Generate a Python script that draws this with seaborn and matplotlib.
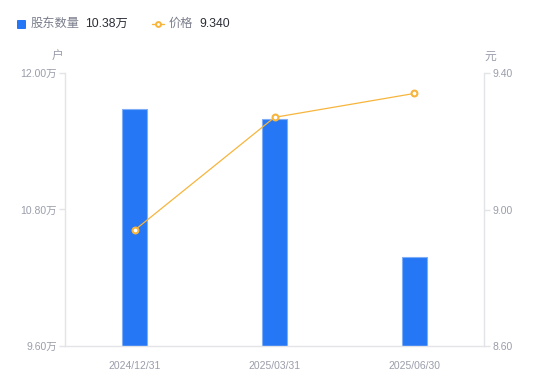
import matplotlib
matplotlib.use("Agg")
import matplotlib.pyplot as plt
import seaborn as sns
import pandas as pd
from matplotlib.ticker import FuncFormatter, FixedLocator

dates = ["2024/12/31", "2025/03/31", "2025/06/30"]
holders = [11.68, 11.60, 10.38]   # 万户
prices = [8.94, 9.27, 9.34]       # 元

left_ticks = [9.60, 10.80, 12.00]
right_ticks = [8.60, 9.00, 9.40]

df = pd.DataFrame({"date": dates, "holders": holders, "price": prices})

sns.set_theme(style="white")
plt.rcParams["font.family"] = ["Liberation Sans", "Noto Sans CJK SC", "DejaVu Sans"]

BLUE = "#2577F5"
ORANGE = "#F7B53C"
GREY = "#9A9DAA"
AXC = "#E3E4E8"

fig = plt.figure(figsize=(5.5, 3.81), dpi=100)
ax = fig.add_axes([65 / 550, 1 - 346 / 381, (484 - 65) / 550, (346 - 73) / 381])

sns.barplot(data=df, x="date", y="holders", ax=ax, color=BLUE, width=0.18,
            saturation=1, edgecolor="#7FAEF7", linewidth=0.8)
ax.set_ylim(left_ticks[0], left_ticks[-1])
ax.set_xlim(-0.5, 2.5)
ax.yaxis.set_major_locator(FixedLocator(left_ticks))
ax.yaxis.set_major_formatter(FuncFormatter(lambda v, p: f"{v:.2f}万"))
ax.set_xlabel("")
ax.set_ylabel("")

ax2 = ax.twinx()
sns.lineplot(data=df, x="date", y="price", ax=ax2, color=ORANGE, lw=0.9,
             marker="o", markersize=4.2, markerfacecolor="white",
             markeredgecolor=ORANGE, markeredgewidth=1.5, sort=False)
ax2.set_ylim(right_ticks[0], right_ticks[-1])
ax2.yaxis.set_major_locator(FixedLocator(right_ticks))
ax2.yaxis.set_major_formatter(FuncFormatter(lambda v, p: f"{v:.2f}"))
ax2.set_xlabel("")
ax2.set_ylabel("")
ax2.set_xlim(-0.5, 2.5)

for a in (ax, ax2):
    for s in a.spines.values():
        s.set_visible(False)
ax.spines["left"].set_visible(True)
ax.spines["left"].set_color(AXC)
ax.spines["bottom"].set_visible(True)
ax.spines["bottom"].set_color(AXC)
ax2.spines["right"].set_visible(True)
ax2.spines["right"].set_color(AXC)
for s in ("left", "bottom"):
    ax.spines[s].set_linewidth(1)
ax2.spines["right"].set_linewidth(1)

ax.tick_params(axis="y", left=True, length=4, width=1, color=AXC, labelsize=7.5,
               labelcolor=GREY, pad=2)
ax.tick_params(axis="x", bottom=False, labelsize=7.5, labelcolor=GREY, pad=5)
ax2.tick_params(axis="y", right=True, length=4, width=1, color=AXC, labelsize=7.5,
                labelcolor=GREY, pad=2)
ax.grid(False)
ax2.grid(False)

fig.text(58 / 550, 1 - 57 / 381, "户", ha="center", va="center", fontsize=8.5, color=GREY)
fig.text(490 / 550, 1 - 57 / 381, "元", ha="center", va="center", fontsize=8.5, color=GREY)

# legend
ly = 1 - 24 / 381
fig.patches.append(matplotlib.patches.FancyBboxPatch(
    (17 / 550, 1 - 29 / 381), 9 / 550, 9 / 381, boxstyle="round,pad=0,rounding_size=0.002",
    transform=fig.transFigure, facecolor=BLUE, edgecolor="none"))
fig.text(31 / 550, ly, "股东数量", ha="left", va="center", fontsize=8.8, color="#7B7F8C")
fig.text(85 / 550, ly, f"{holders[-1]:.2f}万", ha="left", va="center", fontsize=8.8, color="#2B2E36")
fig.add_artist(matplotlib.lines.Line2D([152 / 550, 164 / 550], [ly, ly], transform=fig.transFigure,
                                       color=ORANGE, lw=1))
fig.add_artist(matplotlib.lines.Line2D([158 / 550], [ly], transform=fig.transFigure,
                                       marker="o", markersize=3.5, markerfacecolor="white",
                                       markeredgecolor=ORANGE, markeredgewidth=1.4))
fig.text(169 / 550, ly, "价格", ha="left", va="center", fontsize=8.8, color="#7B7F8C")
fig.text(199 / 550, ly, f"{prices[-1]:.3f}", ha="left", va="center", fontsize=8.8, color="#2B2E36")

fig.savefig("out.png", dpi=100)
